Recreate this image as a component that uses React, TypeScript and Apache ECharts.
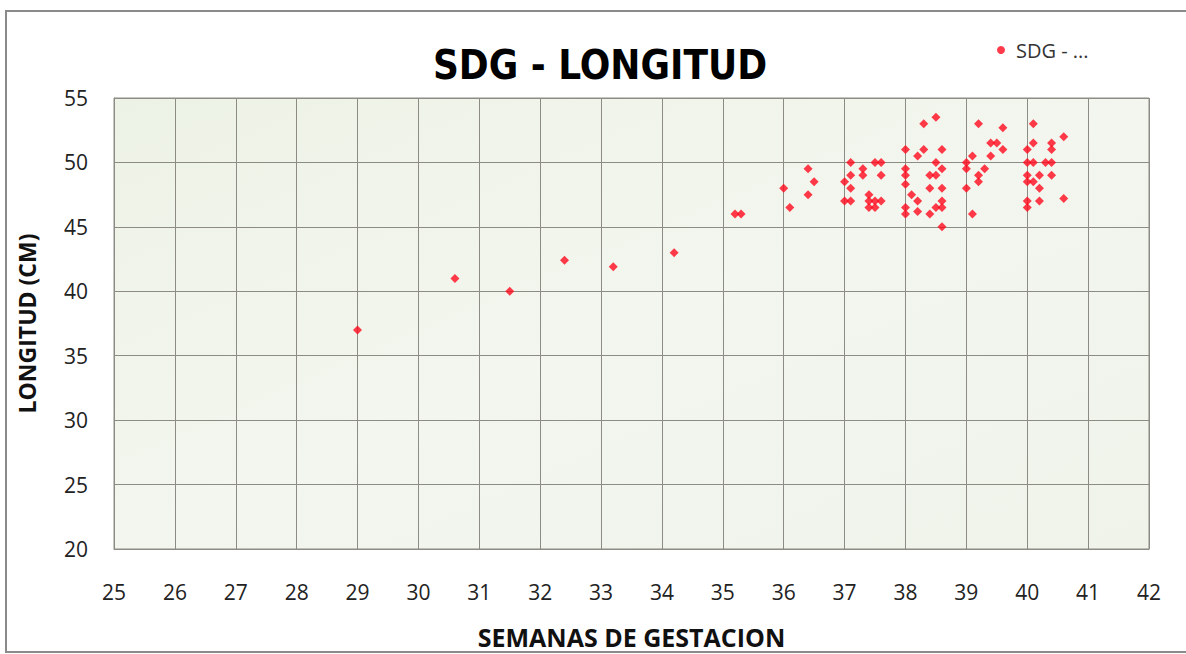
import React, { useEffect, useRef } from "react";
import * as echarts from "echarts";

const seriesName = "SDG - LONGITUD";
const legendLabel = "SDG - ...";
const titleText = "SDG - LONGITUD";
const xAxisTitle = "SEMANAS DE GESTACION";
const yAxisTitle = "LONGITUD (CM)";

// [semanas de gestación, longitud (cm)]
const points: [number, number][] = [
  [29, 37], [30.6, 41], [31.5, 40], [32.4, 42.4], [33.2, 41.9], [34.2, 43],
  [35.2, 46], [35.3, 46],
  [36, 48], [36.1, 46.5], [36.4, 49.5], [36.5, 48.5], [36.4, 47.5],
  [37.1, 50], [37.1, 49], [37, 48.5], [37.1, 48], [37, 47], [37.1, 47],
  [37.3, 49.5], [37.3, 49], [37.5, 50], [37.6, 50], [37.6, 49], [37.4, 47.5],
  [37.4, 47], [37.5, 47], [37.6, 47], [37.4, 46.5], [37.5, 46.5],
  [38.3, 53], [38.5, 53.5], [38, 51], [38.3, 51], [38.6, 51], [38.2, 50.5],
  [38.5, 50], [38.6, 49.5], [38, 49.5], [38, 49], [38, 48.3], [38.4, 49],
  [38.5, 49], [38.4, 48], [38.6, 48], [38.1, 47.5], [38.2, 47], [38.6, 47],
  [38, 46.5], [38, 46], [38.2, 46.2], [38.5, 46.5], [38.6, 46.5], [38.4, 46],
  [38.6, 45],
  [39, 50], [39, 49.5], [39.1, 50.5], [39.2, 53], [39.2, 49], [39.2, 48.5],
  [39.3, 49.5], [39, 48], [39.1, 46], [39.6, 52.7], [39.4, 51.5], [39.5, 51.5],
  [39.6, 51], [39.4, 50.5],
  [40.1, 53], [40.1, 51.5], [40, 51], [40.4, 51.5], [40.4, 51], [40.6, 52],
  [40, 50], [40.1, 50], [40.3, 50], [40.4, 50], [40, 49], [40, 48.5],
  [40.1, 48.5], [40.2, 49], [40.4, 49], [40.2, 48], [40, 47], [40, 46.5],
  [40.2, 47], [40.6, 47.2],
];

const xMin = 25;
const xMax = 42;
const xStep = 1;
const yMin = 20;
const yMax = 55;
const yStep = 5;

export default function App() {
  const ref = useRef<HTMLDivElement>(null);

  useEffect(() => {
    document.body.style.margin = "0";
    if (!ref.current) return;
    const chart = echarts.init(ref.current, undefined, { renderer: "svg" });
    const font = "'Open Sans', 'DejaVu Sans', sans-serif";
    chart.setOption({
      animation: false,
      backgroundColor: "#ffffff",
      title: {
        text: titleText,
        left: 595,
        textAlign: "center",
        top: 40,
        textStyle: {
          fontFamily: "'DejaVu Sans Condensed', 'Liberation Sans', sans-serif",
          fontWeight: "bold",
          fontSize: 40,
          color: "#000000",
        },
      },
      legend: {
        left: 992,
        top: 35,
        icon: "circle",
        itemWidth: 8,
        itemHeight: 8,
        itemGap: 8,
        formatter: () => legendLabel,
        textStyle: { fontFamily: font, fontSize: 20, color: "#333333", padding: [0, 0, 0, 6] },
        data: [seriesName],
      },
      graphic: [
        {
          type: "rect",
          shape: { x: 6, y: 11, width: 1190, height: 641 },
          style: { fill: "none", stroke: "#8a8a8a", lineWidth: 2 },
          silent: true,
          z: -1,
        },
      ],
      grid: {
        left: 114,
        top: 98,
        right: 37,
        bottom: 105,
        show: true,
        borderColor: "#8c8c84",
        borderWidth: 1,
        backgroundColor: {
          type: "linear",
          x: 0,
          y: 0,
          x2: 1,
          y2: 1,
          colorStops: [
            { offset: 0, color: "#edf2e6" },
            { offset: 0.5, color: "#f3f6ee" },
            { offset: 1, color: "#eff3ea" },
          ],
        },
      },
      xAxis: {
        type: "value",
        min: xMin,
        max: xMax,
        interval: xStep,
        name: xAxisTitle,
        nameLocation: "middle",
        nameGap: 75,
        nameTextStyle: { fontFamily: font, fontWeight: "bold", fontSize: 25, color: "#111111" },
        axisLine: { show: true, lineStyle: { color: "#8c8c84" } },
        axisTick: { show: false },
        axisLabel: { margin: 32, fontFamily: font, fontSize: 21, color: "#222222" },
        splitLine: { show: true, lineStyle: { color: "#8c8c84", width: 1 } },
      },
      yAxis: {
        type: "value",
        min: yMin,
        max: yMax,
        interval: yStep,
        name: yAxisTitle,
        nameLocation: "middle",
        nameGap: 76,
        nameTextStyle: { fontFamily: font, fontWeight: "bold", fontSize: 23, color: "#111111" },
        axisLine: { show: true, lineStyle: { color: "#8c8c84" } },
        axisTick: { show: false },
        axisLabel: { margin: 26, fontFamily: font, fontSize: 21, color: "#222222" },
        splitLine: { show: true, lineStyle: { color: "#8c8c84", width: 1 } },
      },
      series: [
        {
          name: seriesName,
          type: "scatter",
          symbol: "diamond",
          symbolSize: 9,
          itemStyle: { color: "#ff0a1e" },
          data: points,
        },
      ],
    });
    return () => chart.dispose();
  }, []);

  return <div ref={ref} style={{ width: 1186, height: 654 }} />;
}
